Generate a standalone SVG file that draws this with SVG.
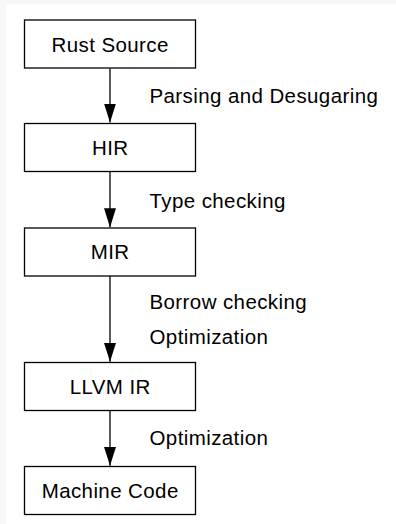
<svg xmlns="http://www.w3.org/2000/svg" width="396" height="524" viewBox="0 0 396 524">
  <style>
    .box { fill: #ffffff; stroke: #000000; stroke-width: 1.3; }
    .node-text { font-family: "Liberation Sans", Arial, Helvetica, sans-serif; font-size: 20.5px; letter-spacing: 0.4px; fill: #000000; text-anchor: middle; }
    .label { font-family: "Liberation Sans", Arial, Helvetica, sans-serif; font-size: 20.5px; letter-spacing: 0.4px; fill: #000000; }
    .edge { stroke: #000000; stroke-width: 1.3; fill: none; marker-end: url(#arrow); }
  </style>
  <defs>
    <marker id="arrow" markerUnits="userSpaceOnUse" viewBox="0 0 19 12" markerWidth="19" markerHeight="12" refX="19" refY="6" orient="auto">
      <path d="M0,0 L19,6 L0,12 Z" fill="#000000"/>
    </marker>
  </defs>
  <rect x="0" y="0" width="396" height="524" fill="#f7f7f7"/>
  <rect x="6" y="4" width="390" height="520" fill="#ffffff"/>

  <g id="connectors">
    <line class="edge" x1="110" y1="68.5" x2="110" y2="122.5"/>
    <line class="edge" x1="110" y1="171.5" x2="110" y2="227.3"/>
    <line class="edge" x1="110" y1="276" x2="110" y2="361.8"/>
    <line class="edge" x1="110" y1="410.5" x2="110" y2="465.8"/>
    <text class="label" x="149.5" y="102.7">Parsing and Desugaring</text>
    <text class="label" x="149.5" y="207.8">Type checking</text>
    <text class="label" x="149.5" y="309.3">Borrow checking</text>
    <text class="label" x="149.5" y="344.3">Optimization</text>
    <text class="label" x="149.5" y="445">Optimization</text>
  </g>

  <g id="rust-source">
    <rect class="box" x="24.5" y="20" width="171" height="48"/>
    <text class="node-text" x="110.2" y="51.5">Rust Source</text>
  </g>
  <g id="hir">
    <rect class="box" x="24.5" y="123.5" width="171" height="48"/>
    <text class="node-text" x="110.2" y="155">HIR</text>
  </g>
  <g id="mir">
    <rect class="box" x="24.5" y="228" width="171" height="48"/>
    <text class="node-text" x="110.2" y="259.3">MIR</text>
  </g>
  <g id="llvm-ir">
    <rect class="box" x="24.5" y="362.5" width="171" height="48"/>
    <text class="node-text" x="110.2" y="393.5">LLVM IR</text>
  </g>
  <g id="machine-code">
    <rect class="box" x="24.5" y="466.5" width="171" height="48"/>
    <text class="node-text" x="110.2" y="497.5">Machine Code</text>
  </g>
</svg>
